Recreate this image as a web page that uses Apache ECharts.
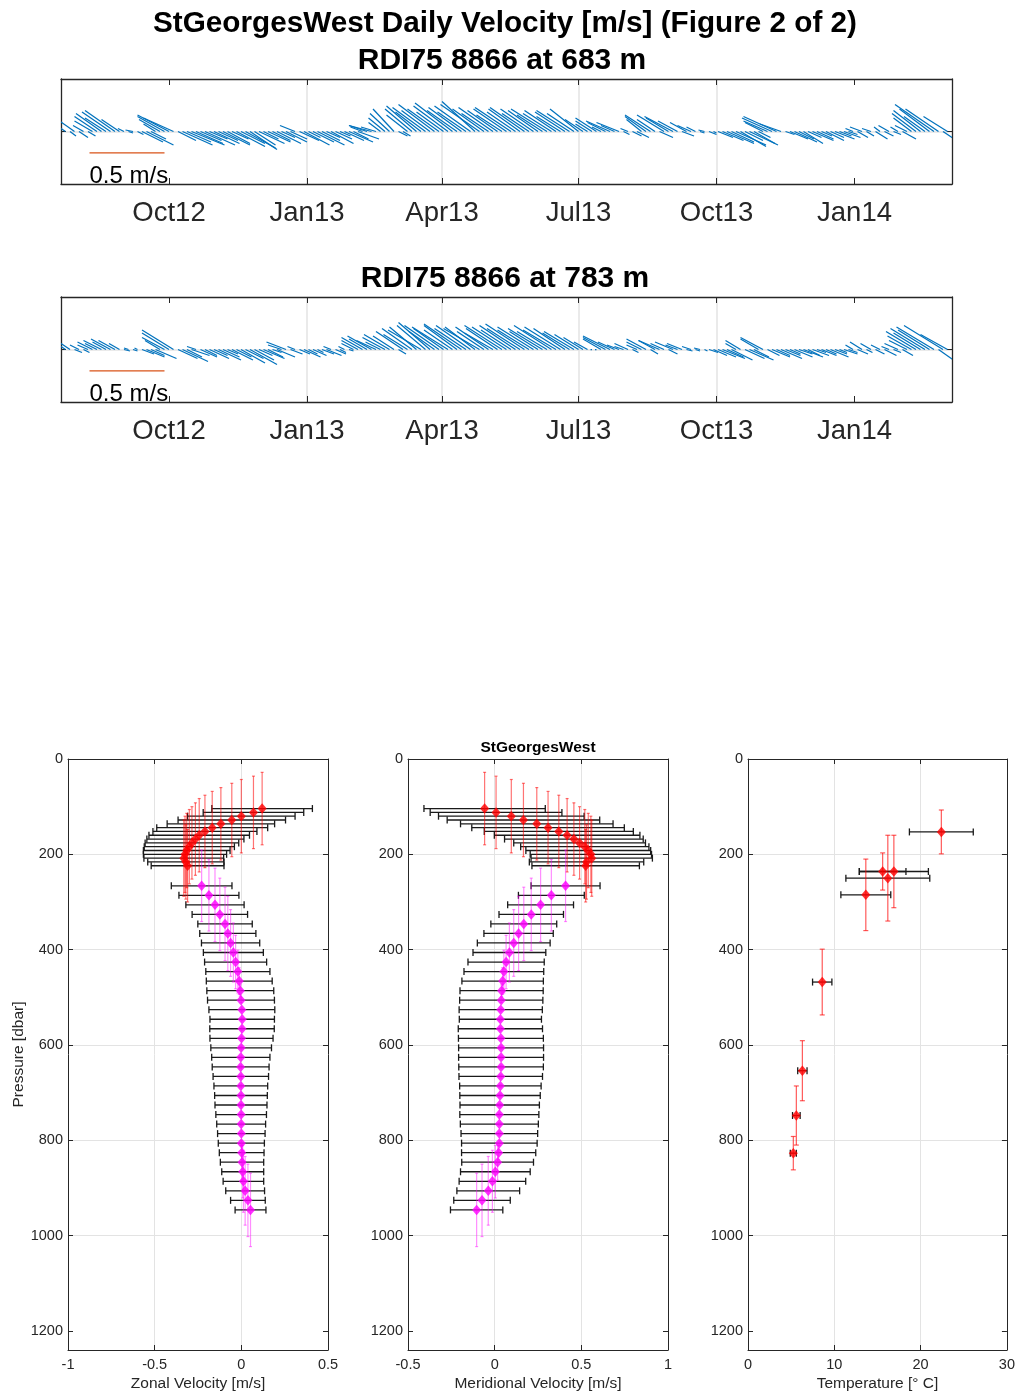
<!DOCTYPE html>
<html>
<head>
<meta charset="utf-8">
<script src="https://cdn.jsdelivr.net/npm/echarts@6/dist/echarts.min.js"></script>
<style>
  html, body { margin: 0; padding: 0; background: #ffffff; }
  #chart { width: 1018px; height: 1396px; }
</style>
</head>
<body>
<div id="chart"></div>
<script>
// ---------------- Stick plots: daily ADCP velocity, one stick every 3 days (cm/s) ----------------
const stickStart = '2012-07-21';
const stickStepDays = 3;
const axisStart = '2012-07-21';
const axisEnd = '2014-03-07';
const monthTickDates = ['2012-10-01', '2013-01-01', '2013-04-01', '2013-07-01', '2013-10-01', '2014-01-01'];
const monthTickLabels = ['Oct12', 'Jan13', 'Apr13', 'Jul13', 'Oct13', 'Jan14'];

const u683 = [
  -6, -9, 4, -10, 6, -7, 5, -12, -15, -17,
  -14, -19, -20, -12, -4, 3, -5, 4, 14, 18,
  10, -8, -14, -18, -21, -20, 12, 20, 16, 22,
  18, 14, 20, 12, 17, 13, 18, 15, 11, 19,
  16, 20, 18, 14, 17, 10, 15, 12, 16, 9,
  14, 11, -10, 13, 17, 8, 14, 18, 12, 9,
  15, 11, 7, 13, 16, 10, 14, -8, -12, -15,
  -10, -8, -11, -13, -14, 6, 5, -14, -18, -20,
  -17, -22, -19, -24, -21, -18, -23, -25, -20, -22,
  -19, -24, -22, -26, -21, -18, -23, -20, -17, -22,
  -24, -19, -21, -23, -18, -22, -20, -17, -24, -19,
  -21, -16, -20, -22, -18, -19, -12, -8, -11, -14,
  -6, -12, -16, -9, -15, 4, -5, 6, 8, -10,
  -14, -17, -12, 9, -18, -15, -19, -13, 8, -11,
  -9, -6, 3, -4, 5, 2, 10, 14, 18, 15,
  20, 17, 12, 19, 14, 8, -12, -16, -20, -22,
  -14, 6, 12, 15, 10, 13, 9, 14, 11, 7,
  12, 9, 13, 8, 11, 6, -5, 7, -8, 5,
  -6, 8, -4, 6, -7, 5, -5, 9, -8, -12,
  -16, -18, -14, -20, -26, -22, 9, -16
];
const v683 = [
  4, 6, -3, 7, -4, 4, -3, 7, 10, 12,
  9, 13, 14, 8, 2, -1, 1, -2, -7, -9,
  -5, 5, 8, 10, 11, 9, -6, -9, -7, -9,
  -8, -6, -9, -5, -8, -6, -9, -8, -5, -10,
  -8, -11, -12, -9, -8, -5, -7, -6, -8, -4,
  -7, -5, 4, -6, -9, -4, -7, -9, -6, -4,
  -8, -5, -3, -6, -7, -5, -5, 3, 4, 4,
  3, 6, 9, 12, 15, -3, -3, 11, 15, 17,
  13, 16, 14, 18, 15, 13, 17, 19, 14, 16,
  13, 17, 20, 18, 15, 12, 16, 14, 11, 15,
  16, 13, 15, 16, 12, 15, 14, 11, 15, 12,
  14, 10, 13, 14, 12, 15, 8, 5, 7, 9,
  3, 6, 7, 4, 6, -2, 2, -3, -4, 8,
  10, 11, 8, -4, 11, 9, 10, 7, -3, 6,
  4, 3, -1, 1, -2, -1, -4, -6, -8, -7,
  -9, -10, -6, -9, -8, -4, 6, 7, 9, 10,
  5, -2, -5, -7, -5, -8, -4, -6, -5, -3,
  -6, -4, -5, -3, -4, -2, 2, -4, 3, -3,
  2, -5, 3, -3, 4, -2, 3, -5, 4, 9,
  12, 14, 10, 15, 18, 15, -6, 10
];
const u783 = [
  -5, -9, -12, 5, -6, 4, -7, -10, -8, -12,
  -9, -13, -11, -7, 4, -3, 3, -2, 8, 12,
  9, 14, -10, -15, -18, -21, 13, 17, 10, 12,
  -6, 11, 8, 13, 9, 15, 11, 7, 14, 10,
  16, 12, 18, 13, 9, 14, 10, 6, 12, -9,
  -13, 8, -5, 7, 11, 6, 9, 4, 8, 10,
  -5, 7, 4, -4, 3, -8, -11, -14, -12, -16,
  -13, -10, -15, -17, -14, 5, -18, -16, -20, -18,
  -22, -19, -21, -17, -23, -20, -24, -19, -22, -25,
  -21, -23, -20, -24, -18, -22, -19, -21, -25, -23,
  -20, -24, -22, -26, -21, -24, -19, -23, -20, -25,
  -22, -24, -21, -18, -20, -16, -13, -9, -1, -1,
  -12, -15, -18, -11, -8, -6, -9, 4, -7, -10,
  -13, 5, -11, -14, -9, 6, -12, -8, -10, 4,
  -6, 3, -4, 2, 6, 9, 12, 15, 11, 14,
  -7, -10, 13, 16, 10, -12, -15, 8, 12, 9,
  14, 10, 7, 12, 9, 13, 8, 11, 6, 10,
  7, 12, 8, 5, 9, 6, -5, 7, -8, 4,
  -7, 6, -6, 8, -5, 5, -9, 7, -12, -16,
  -20, -18, -23, -21, -25, 10, -26, -18
];
const v783 = [
  3, 6, 8, -2, 3, -2, 3, 5, 4, 6,
  5, 7, 6, 4, -1, 1, -1, 1, -3, -5,
  -4, -6, 6, 8, 11, 13, -6, -8, -5, -4,
  2, -5, -4, -6, -4, -7, -5, -3, -7, -5,
  -9, -6, -10, -7, -4, -6, -5, -2, -5, 3,
  5, -3, 2, -3, -5, -3, -4, -2, -3, -4,
  2, -3, -2, 2, -1, 4, 6, 8, 7, 9,
  6, 5, 8, 10, 9, -3, 12, 10, 14, 15,
  13, 16, 18, 12, 16, 14, 15, 13, 16, 17,
  14, 16, 15, 14, 12, 15, 11, 14, 16, 15,
  13, 16, 14, 17, 13, 15, 12, 14, 12, 16,
  13, 15, 14, 11, 12, 10, 8, 5, 0, 0,
  7, 8, 9, 5, 3, 2, 4, -2, 3, 5,
  7, -3, 6, 6, 4, -3, 5, 3, 4, -1,
  2, -1, 1, -1, -2, -4, -5, -6, -5, -7,
  4, 6, -6, -7, -5, 7, 8, -4, -5, -4,
  -6, -4, -3, -5, -3, -5, -4, -4, -2, -4,
  -3, -5, -3, -2, -3, -2, 3, -3, 5, -2,
  4, -3, 3, -4, 2, -2, 4, -4, 6, 9,
  12, 11, 14, 13, 15, -7, 16, 10
];

// ---------------- Mean velocity profiles (m/s) with standard deviations ----------------
// upper instrument bins
const upperP    = [104, 112, 120, 128, 136, 144, 152, 160, 168, 176, 184, 192, 200, 208, 216, 224];
const upperPStd = [76, 76, 77, 77, 76, 76, 76, 77, 76, 76, 78, 78, 80, 80, 78, 76];
const upperU    = [0.12, 0.07, 0.0, -0.055, -0.118, -0.168, -0.21, -0.243, -0.265, -0.285, -0.30, -0.315, -0.325, -0.332, -0.32, -0.31];
const upperUStd = [0.29, 0.29, 0.31, 0.31, 0.31, 0.32, 0.30, 0.29, 0.28, 0.27, 0.26, 0.25, 0.24, 0.23, 0.22, 0.21];
const upperV    = [-0.058, 0.008, 0.096, 0.166, 0.243, 0.308, 0.37, 0.418, 0.457, 0.49, 0.52, 0.54, 0.555, 0.56, 0.53, 0.525];
const upperVStd = [0.35, 0.38, 0.42, 0.44, 0.44, 0.44, 0.43, 0.42, 0.40, 0.38, 0.37, 0.36, 0.35, 0.35, 0.33, 0.31];

// lower instrument bins
const lowerP    = [266, 286, 306, 326, 346, 366, 386, 406, 426, 446, 466, 486, 506, 526, 546, 566, 586, 606,
                   626, 646, 666, 686, 706, 726, 746, 766, 786, 806, 826, 846, 866, 886, 906, 926, 946];
const lowerPStd = [75, 75, 77, 76, 77, 78, 70, 62, 56, 45, 28, 12, 5, 3, 3, 3, 3, 3,
                   3, 3, 3, 3, 3, 3, 3, 3, 3, 5, 15, 38, 55, 65, 72, 76, 77];
const lowerU    = [-0.229, -0.187, -0.152, -0.124, -0.094, -0.078, -0.062, -0.046, -0.033, -0.02, -0.012, -0.006,
                   -0.002, 0.003, 0.005, 0.004, 0.001, -0.001, -0.003, -0.004, -0.003, -0.003, -0.002, -0.002,
                   -0.001, -0.001, 0.0, 0.0, 0.002, 0.004, 0.008, 0.012, 0.022, 0.038, 0.053];
const lowerUStd = [0.175, 0.173, 0.168, 0.16, 0.157, 0.162, 0.168, 0.173, 0.179, 0.185, 0.19, 0.193, 0.193, 0.19,
                   0.186, 0.186, 0.182, 0.175, 0.168, 0.164, 0.16, 0.155, 0.152, 0.15, 0.146, 0.141, 0.137, 0.133,
                   0.129, 0.125, 0.121, 0.117, 0.112, 0.1, 0.089];
const lowerV    = [0.409, 0.327, 0.265, 0.211, 0.168, 0.138, 0.11, 0.085, 0.066, 0.053, 0.046, 0.04, 0.038, 0.035,
                   0.033, 0.033, 0.036, 0.037, 0.037, 0.037, 0.035, 0.033, 0.031, 0.029, 0.027, 0.027, 0.027, 0.027,
                   0.023, 0.017, 0.004, -0.013, -0.037, -0.073, -0.104];
const lowerVStd = [0.199, 0.19, 0.19, 0.186, 0.19, 0.2, 0.21, 0.21, 0.22, 0.23, 0.235, 0.24, 0.24, 0.24, 0.237,
                   0.243, 0.245, 0.245, 0.245, 0.244, 0.241, 0.235, 0.232, 0.229, 0.228, 0.225, 0.221, 0.218,
                   0.214, 0.207, 0.201, 0.192, 0.181, 0.163, 0.151];

// ---------------- Mean temperature at each sensor ----------------
const tempP    = [153, 236, 236, 250, 285, 468, 654, 748, 827];
const tempPStd = [46, 39, 76, 90, 75, 69, 63, 62, 35];
const tempT    = [22.4, 15.6, 16.9, 16.2, 13.65, 8.6, 6.3, 5.6, 5.25];
const tempTStd = [3.7, 2.7, 4.0, 4.86, 2.89, 1.12, 0.54, 0.44, 0.35];

const pressureTicks = [0, 200, 400, 600, 800, 1000, 1200];

// ---------------- helpers ----------------
const FONT = "'Liberation Sans', Arial, Helvetica, sans-serif";
const INK = '#262626';
const GRIDLINE = '#e3e3e3';
const DAY = 86400000;
// the stick-plot time axis counts days from axisStart
const dayOf = s => Math.round((Date.parse(s + 'T00:00:00Z') - Date.parse(axisStart + 'T00:00:00Z')) / DAY);
const axisDays = dayOf(axisEnd);
const firstStickDay = dayOf(stickStart);
const monthTicks = monthTickDates.map(dayOf);

function stickData(u, v) {
  return u.map((uu, i) => [firstStickDay + i * stickStepDays, uu / 100, v[i] / 100]);
}

// a stick from (t, 0) to (t + u, v), with u drawn at the same px-per-(m/s) as the v axis
function renderStick(params, api) {
  const base = api.coord([api.value(0), 0]);
  const tip = api.coord([api.value(0), api.value(2)]);
  const pxPerMs = api.size([0, 1])[1];
  return {
    type: 'line',
    shape: { x1: base[0], y1: base[1], x2: base[0] + api.value(1) * pxPerMs, y2: tip[1] },
    style: { stroke: '#0072BD', lineWidth: 1.25 }
  };
}

function renderScaleBar(params, api) {
  const p = api.coord([api.value(0), api.value(1)]);
  const len = api.value(2) * api.size([0, 1])[1];
  const tp = api.coord([api.value(0), api.value(3)]);
  return {
    type: 'group',
    children: [
      { type: 'line', shape: { x1: p[0], y1: p[1], x2: p[0] + len, y2: p[1] },
        style: { stroke: '#D95319', lineWidth: 1.2 } },
      { type: 'text', x: p[0], y: tp[1],
        style: { text: '0.5 m/s', font: '24px ' + FONT, fill: '#000', textAlign: 'left', textVerticalAlign: 'middle' } }
    ]
  };
}

function hBar(color, cap, width) {
  return function (params, api) {
    const x = api.value(0), p = api.value(1), dx = api.value(2);
    const a = api.coord([x - dx, p]), b = api.coord([x + dx, p]);
    const st = { stroke: color, lineWidth: width };
    return { type: 'group', children: [
      { type: 'line', shape: { x1: a[0], y1: a[1], x2: b[0], y2: b[1] }, style: st },
      { type: 'line', shape: { x1: a[0], y1: a[1] - cap, x2: a[0], y2: a[1] + cap }, style: st },
      { type: 'line', shape: { x1: b[0], y1: b[1] - cap, x2: b[0], y2: b[1] + cap }, style: st }
    ]};
  };
}
function vBar(color, cap, width) {
  return function (params, api) {
    const x = api.value(0), p = api.value(1), dp = api.value(3);
    const a = api.coord([x, p - dp]), b = api.coord([x, p + dp]);
    const st = { stroke: color, lineWidth: width };
    return { type: 'group', children: [
      { type: 'line', shape: { x1: a[0], y1: a[1], x2: b[0], y2: b[1] }, style: st },
      { type: 'line', shape: { x1: a[0] - cap, y1: a[1], x2: a[0] + cap, y2: a[1] }, style: st },
      { type: 'line', shape: { x1: b[0] - cap, y1: b[1], x2: b[0] + cap, y2: b[1] }, style: st }
    ]};
  };
}

const profRows = (xs, ps, xstd, pstd) => xs.map((x, i) => [x, ps[i], xstd[i], pstd[i]]);

// ---------------- layout ----------------
const grids = [
  { left: 61, top: 79, width: 891, height: 105 },
  { left: 61, top: 297, width: 891, height: 105 },
  { left: 68, top: 759, width: 260, height: 591 },
  { left: 408, top: 759, width: 260, height: 591 },
  { left: 748, top: 759, width: 259, height: 591 }
].map(g => Object.assign({ show: false }, g));

// every axis draws its own edge of the box
const boxLine = (w) => ({ show: true, onZero: false, lineStyle: { color: INK, width: w } });
const gridSplit = { show: true, showMinLine: false, showMaxLine: false, lineStyle: { color: GRIDLINE } };

function stickXAxes(gi) {
  return [
    { type: 'value', gridIndex: gi, position: 'bottom', min: 0, max: axisDays,
      axisLine: boxLine(1.3),
      axisTick: { customValues: monthTicks, inside: true, length: 6, lineStyle: { color: INK } },
      axisLabel: { customValues: monthTicks, margin: 15, fontSize: 27.5, fontFamily: FONT, color: INK,
        formatter: val => monthTickLabels[monthTicks.indexOf(val)] || '' },
      splitLine: { show: true, showMinLine: false, showMaxLine: false, lineStyle: { color: GRIDLINE, width: 1.5 } } },
    { type: 'value', gridIndex: gi, position: 'top', min: 0, max: axisDays,
      axisLine: boxLine(1.3),
      axisTick: { customValues: monthTicks, inside: true, length: 6, lineStyle: { color: INK } },
      axisLabel: { show: false, customValues: monthTicks },
      splitLine: { show: false } }
  ];
}
function stickYAxes(gi) {
  const common = { type: 'value', gridIndex: gi, min: -0.35, max: 0.35, interval: 0.35,
    axisLine: boxLine(1.3), axisLabel: { show: false },
    axisTick: { inside: true, length: 5, lineStyle: { color: INK } } };
  return [
    Object.assign({}, common, { position: 'left',
      splitLine: { show: true, showMinLine: false, showMaxLine: false, lineStyle: { color: GRIDLINE, width: 1.5 } } }),
    Object.assign({}, common, { position: 'right', splitLine: { show: false } })
  ];
}
function profXAxes(gi, min, max, step, name) {
  return [
    { type: 'value', gridIndex: gi, position: 'bottom', min: min, max: max, interval: step,
      name: name, nameLocation: 'middle', nameGap: 26,
      nameTextStyle: { fontSize: 15.5, fontFamily: FONT, color: INK },
      axisLine: boxLine(1),
      axisTick: { inside: true, length: 5, lineStyle: { color: INK } },
      axisLabel: { margin: 7, fontSize: 14.5, fontFamily: FONT, color: INK, formatter: v => String(v) },
      splitLine: gridSplit },
    { type: 'value', gridIndex: gi, position: 'top', min: min, max: max, interval: step,
      axisLine: boxLine(1), axisLabel: { show: false },
      axisTick: { inside: true, length: 5, lineStyle: { color: INK } },
      splitLine: { show: false } }
  ];
}
function profYAxes(gi, name) {
  const common = { type: 'value', gridIndex: gi, min: 0, max: 1240, inverse: true, axisLine: boxLine(1) };
  return [
    Object.assign({}, common, { position: 'left',
      name: name || '', nameLocation: 'middle', nameGap: 38,
      nameTextStyle: { fontSize: 15.5, fontFamily: FONT, color: INK },
      axisTick: { customValues: pressureTicks, inside: true, length: 5, lineStyle: { color: INK } },
      axisLabel: { customValues: pressureTicks, margin: 5, fontSize: 14.5, fontFamily: FONT, color: INK,
        formatter: v => String(v) },
      splitLine: gridSplit }),
    Object.assign({}, common, { position: 'right',
      axisTick: { customValues: pressureTicks, inside: true, length: 5, lineStyle: { color: INK } },
      axisLabel: { show: false, customValues: pressureTicks },
      splitLine: { show: false } })
  ];
}

const xAxes = [].concat(
  stickXAxes(0), stickXAxes(1),
  profXAxes(2, -1, 0.5, 0.5, 'Zonal Velocity [m/s]'),
  profXAxes(3, -0.5, 1, 0.5, 'Meridional Velocity [m/s]'),
  profXAxes(4, 0, 30, 10, 'Temperature [\u00B0 C]')
);
// y axes: 0,1 stick panel 1 | 2,3 stick panel 2 | 4,5 zonal | 6,7 meridional | 8,9 temperature
const yAxes = [].concat(
  stickYAxes(0), stickYAxes(1),
  profYAxes(2, 'Pressure [dbar]'), profYAxes(3), profYAxes(4)
);

const RED_V = 'rgba(255,0,0,0.55)';
const MAG_V = 'rgba(255,0,255,0.45)';
const BAR_INK = '#1a1a1a';
const diamond = (color) => ({ type: 'scatter', symbol: 'diamond', symbolSize: [9, 10.5],
  itemStyle: { color: color, borderWidth: 0 }, z: 5, silent: true });

function profileSeries(xi, yi, upX, upXStd, loX, loXStd) {
  const up = profRows(upX, upperP, upXStd, upperPStd);
  const lo = profRows(loX, lowerP, loXStd, lowerPStd);
  const base = { type: 'custom', xAxisIndex: xi, yAxisIndex: yi, encode: { x: 0, y: 1 }, silent: true };
  return [
    Object.assign({}, base, { renderItem: hBar(BAR_INK, 3.5, 1.3), data: up, z: 2 }),
    Object.assign({}, base, { renderItem: hBar(BAR_INK, 3.5, 1.3), data: lo, z: 2 }),
    Object.assign({}, base, { renderItem: vBar(RED_V, 1.5, 1.2), data: up, z: 3 }),
    Object.assign({}, base, { renderItem: vBar(MAG_V, 1.5, 1.2), data: lo, z: 3 }),
    Object.assign(diamond('#FF0000'), { xAxisIndex: xi, yAxisIndex: yi, data: up.map(r => [r[0], r[1]]) }),
    Object.assign(diamond('#FF00FF'), { xAxisIndex: xi, yAxisIndex: yi, data: lo.map(r => [r[0], r[1]]) })
  ];
}

const tempRows = profRows(tempT, tempP, tempTStd, tempPStd);

const series = [
  { type: 'custom', xAxisIndex: 0, yAxisIndex: 0, clip: true, silent: true, encode: { x: 0, y: 2 },
    renderItem: renderStick, data: stickData(u683, v683), z: 3 },
  { type: 'custom', xAxisIndex: 2, yAxisIndex: 2, clip: true, silent: true, encode: { x: 0, y: 2 },
    renderItem: renderStick, data: stickData(u783, v783), z: 3 },
  { type: 'custom', xAxisIndex: 0, yAxisIndex: 0, silent: true, renderItem: renderScaleBar,
    data: [[dayOf('2012-08-09'), -0.142, 0.5, -0.296]], z: 4 },
  { type: 'custom', xAxisIndex: 2, yAxisIndex: 2, silent: true, renderItem: renderScaleBar,
    data: [[dayOf('2012-08-09'), -0.142, 0.5, -0.296]], z: 4 }
].concat(
  profileSeries(4, 4, upperU, upperUStd, lowerU, lowerUStd),
  profileSeries(6, 6, upperV, upperVStd, lowerV, lowerVStd),
  [
    { type: 'custom', xAxisIndex: 8, yAxisIndex: 8, encode: { x: 0, y: 1 }, silent: true,
      renderItem: hBar(BAR_INK, 3.5, 1.3), data: tempRows, z: 2 },
    { type: 'custom', xAxisIndex: 8, yAxisIndex: 8, encode: { x: 0, y: 1 }, silent: true,
      renderItem: vBar('rgba(255,0,0,0.65)', 2.5, 1.2), data: tempRows, z: 3 },
    Object.assign(diamond('#FF0000'), { xAxisIndex: 8, yAxisIndex: 8, data: tempRows.map(r => [r[0], r[1]]) })
  ]
);

const titleText = (text, x, y, size) => ({
  type: 'text', x: x, y: y,
  style: { text: text, font: 'bold ' + size + 'px ' + FONT, fill: '#000', textAlign: 'center', textVerticalAlign: 'middle' }
});

const chart = echarts.init(document.getElementById('chart'), null, { renderer: 'canvas' });
chart.setOption({
  backgroundColor: '#ffffff',
  animation: false,
  grid: grids,
  xAxis: xAxes,
  yAxis: yAxes,
  series: series,
  graphic: [
    titleText('StGeorgesWest Daily Velocity [m/s] (Figure 2 of 2)', 505, 24, 29.7),
    titleText('RDI75 8866 at 683 m', 502, 61, 30),
    titleText('RDI75 8866 at 783 m', 505, 279, 30),
    titleText('StGeorgesWest', 538, 748, 15.5)
  ]
});
</script>
</body>
</html>
